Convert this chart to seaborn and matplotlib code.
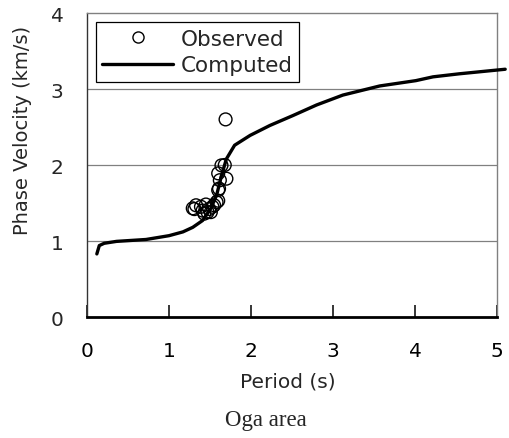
import matplotlib
matplotlib.use("Agg")
import matplotlib.pyplot as plt
import seaborn as sns
import pandas as pd
from matplotlib.lines import Line2D

# Computed dispersion curve
comp_period = [0.12, 0.15, 0.21, 0.36, 0.72, 1.00, 1.17, 1.29, 1.41, 1.51, 1.58,
               1.64, 1.70, 1.80, 1.99, 2.23, 2.51, 2.80, 3.12, 3.57, 4.01, 4.22,
               4.54, 5.10]
comp_vel = [0.83, 0.94, 0.97, 0.995, 1.02, 1.07, 1.12, 1.18, 1.27, 1.43, 1.60,
            1.86, 2.08, 2.26, 2.39, 2.52, 2.65, 2.79, 2.92, 3.04, 3.11, 3.16,
            3.20, 3.26]

# Observed data
obs_period = [1.69, 1.64, 1.68, 1.60, 1.70, 1.62, 1.61, 1.60, 1.60, 1.33, 1.39,
              1.45, 1.41, 1.49, 1.55, 1.43, 1.51, 1.31, 1.29, 1.47, 1.53, 1.58]
obs_vel = [2.60, 1.995, 2.00, 1.89, 1.82, 1.80, 1.69, 1.67, 1.53, 1.47, 1.45,
           1.48, 1.40, 1.42, 1.47, 1.36, 1.38, 1.42, 1.43, 1.38, 1.45, 1.51]

x_ticks = [0, 1, 2, 3, 4, 5]
y_ticks = [0, 1, 2, 3, 4]

sns.set_style("ticks")
plt.rcParams['font.family'] = ['DejaVu Sans']
plt.rcParams.update({
    "xtick.bottom": True, "xtick.top": False, "xtick.direction": "in",
    "xtick.major.size": 9, "xtick.major.width": 1.1, "xtick.color": "black",
    "xtick.major.pad": 17, "xtick.labelsize": 14.5,
    "ytick.left": False, "ytick.major.size": 0, "ytick.major.pad": 17,
    "ytick.labelsize": 14.5,
})

fig = plt.figure(figsize=(5.1, 4.39), dpi=100)
ax = fig.add_axes([87 / 510, 1 - 318 / 439, 410 / 510, 304 / 439])

comp_df = pd.DataFrame({"Period": comp_period, "Velocity": comp_vel})
obs_df = pd.DataFrame({"Period": obs_period, "Velocity": obs_vel})

for yv in [1, 2, 3]:
    ax.axhline(yv, color="#808080", lw=0.9, zorder=0)

sns.lineplot(data=comp_df, x="Period", y="Velocity", sort=False, ax=ax,
             color="black", lw=2.4, clip_on=False, zorder=3)
sns.scatterplot(data=obs_df, x="Period", y="Velocity", ax=ax, marker="o",
                s=85, facecolor="none", edgecolor="black", linewidth=1.0,
                zorder=4)

ax.set_xlim(0, 5)
ax.set_ylim(0, 4)
ax.set_xticks(x_ticks)
ax.set_yticks(y_ticks)
ax.set_xticklabels([str(t) for t in x_ticks])
ax.set_yticklabels([str(t) for t in y_ticks])
ax.xaxis.set_tick_params(which="major", bottom=True, direction="in",
                         length=9, width=1.1, color="black")

ax.set_xlabel("Period (s)", fontsize=14.5)
ax.set_ylabel("Phase Velocity (km/s)", fontsize=14)
ax.xaxis.set_label_coords(0.49, (318 - 382) / 304)
ax.yaxis.set_label_coords(-64 / 410, (318 - 130) / 304)
ax.xaxis.label.set_va("center")
ax.yaxis.label.set_va("center")

for side in ["top", "right"]:
    ax.spines[side].set_color("#808080")
    ax.spines[side].set_linewidth(1.0)
ax.spines["left"].set_color("#333333")
ax.spines["left"].set_linewidth(1.0)
ax.spines["bottom"].set_color("black")
ax.spines["bottom"].set_linewidth(2.0)

handles = [
    Line2D([], [], marker="o", linestyle="none", markerfacecolor="none",
           markeredgecolor="black", markersize=8, markeredgewidth=1.0),
    Line2D([], [], color="black", lw=2.4),
]
leg = ax.legend(handles, ["Observed", "Computed"], loc="upper left",
                bbox_to_anchor=(0.021, 0.969), fontsize=15.5, frameon=True,
                fancybox=False, edgecolor="black", framealpha=1,
                borderpad=0.3, handlelength=3.3, handletextpad=0.35,
                labelspacing=0.3, borderaxespad=0)
leg.get_frame().set_linewidth(0.9)

fig.text(266 / 510, 1 - 421 / 439, "Oga area", ha="center", va="center",
         fontsize=16.5, family="Liberation Serif")

fig.savefig("out.png", dpi=100)
